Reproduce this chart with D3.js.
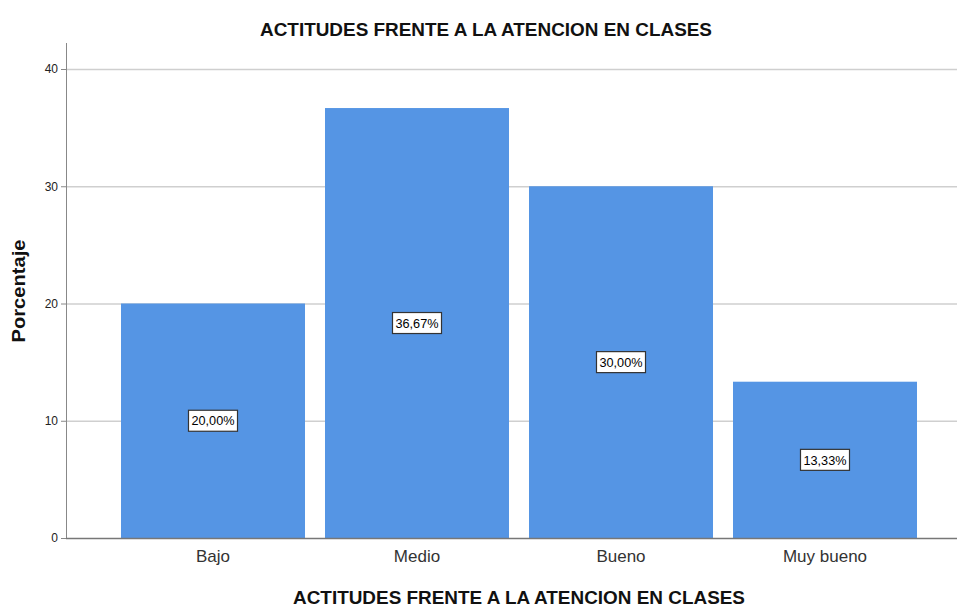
<!DOCTYPE html>
<html>
<head>
<meta charset="utf-8">
<script src="https://cdn.jsdelivr.net/npm/d3@7"></script>
<style>
  body { margin: 0; background: #fff; }
  text { font-family: "Liberation Sans", Arial, sans-serif; }
</style>
</head>
<body>
<div id="chart"></div>
<script>
// datos del grafico
var categorias = ["Bajo", "Medio", "Bueno", "Muy bueno"];
var porcentajes = [20.00, 36.67, 30.00, 13.33];
var yTicks = [0, 10, 20, 30, 40];
var titulo = "ACTITUDES FRENTE A LA ATENCION EN CLASES";

var W = 957, H = 608;

var svg = d3.select("#chart").append("svg")
    .attr("width", W)
    .attr("height", H);

var y = d3.scaleLinear()
    .domain([0, 40])
    .range([538, 69]);

var x = d3.scaleBand()
    .domain(categorias)
    .range([111, 927])
    .paddingInner(0.098)
    .paddingOuter(0.049);

// lineas de grilla
svg.append("g")
    .selectAll("line")
    .data(yTicks.filter(function(d) { return d > 0; }))
    .enter().append("line")
    .attr("x1", 66)
    .attr("x2", W)
    .attr("y1", function(d) { return y(d) + 0.5; })
    .attr("y2", function(d) { return y(d) + 0.5; })
    .attr("stroke", "#cfcfcf")
    .attr("stroke-width", 1.5);

// barras
svg.append("g")
    .selectAll("rect")
    .data(porcentajes)
    .enter().append("rect")
    .attr("x", function(d, i) { return x(categorias[i]); })
    .attr("y", function(d) { return y(d); })
    .attr("width", x.bandwidth())
    .attr("height", function(d) { return y(0) - y(d); })
    .attr("fill", "#5595e4");

// eje y
var yAxis = d3.axisLeft(y)
    .tickValues(yTicks)
    .tickSize(5)
    .tickFormat(d3.format("d"));

var gy = svg.append("g")
    .attr("transform", "translate(66,0)")
    .call(yAxis);
gy.select(".domain").remove();
gy.selectAll(".tick line").attr("stroke", "#888");
gy.selectAll(".tick text")
    .attr("x", -8)
    .style("font-size", "12px")
    .attr("fill", "#222");

svg.append("line")
    .attr("x1", 66.5).attr("x2", 66.5)
    .attr("y1", 43).attr("y2", 538)
    .attr("stroke", "#888");

// eje x
var gx = svg.append("g")
    .attr("transform", "translate(0,538)")
    .call(d3.axisBottom(x).tickSize(0));
gx.select(".domain").remove();
gx.selectAll(".tick text")
    .attr("y", 12)
    .style("font-size", "17px")
    .attr("fill", "#333");

svg.append("line")
    .attr("x1", 66).attr("x2", W)
    .attr("y1", 538.5).attr("y2", 538.5)
    .attr("stroke", "#777")
    .attr("stroke-width", 1.5);

// etiquetas de porcentaje
var etiquetas = svg.append("g")
    .selectAll("g")
    .data(porcentajes)
    .enter().append("g")
    .attr("transform", function(d, i) {
        return "translate(" + (x(categorias[i]) + x.bandwidth() / 2) + "," + ((y(d) + y(0)) / 2) + ")";
    });

etiquetas.append("rect")
    .attr("x", -24.5)
    .attr("y", -10.5)
    .attr("width", 49)
    .attr("height", 21)
    .attr("fill", "#fff")
    .attr("stroke", "#333")
    .attr("stroke-width", 1.2);

etiquetas.append("text")
    .attr("text-anchor", "middle")
    .attr("dy", "0.36em")
    .style("font-size", "13px")
    .attr("textLength", 43)
    .attr("lengthAdjust", "spacingAndGlyphs")
    .attr("fill", "#000")
    .text(function(d) { return d.toFixed(2).replace(".", ",") + "%"; });

// titulos
svg.append("text")
    .attr("x", 486)
    .attr("y", 36)
    .attr("text-anchor", "middle")
    .style("font-size", "18px")
    .style("font-weight", "bold")
    .attr("textLength", 452)
    .attr("lengthAdjust", "spacingAndGlyphs")
    .attr("fill", "#111")
    .text(titulo);

svg.append("text")
    .attr("x", 519)
    .attr("y", 604)
    .attr("text-anchor", "middle")
    .style("font-size", "18px")
    .style("font-weight", "bold")
    .attr("textLength", 452)
    .attr("lengthAdjust", "spacingAndGlyphs")
    .attr("fill", "#111")
    .text(titulo);

svg.append("text")
    .attr("transform", "translate(25,291) rotate(-90)")
    .attr("text-anchor", "middle")
    .style("font-size", "18px")
    .style("font-weight", "bold")
    .attr("textLength", 103)
    .attr("lengthAdjust", "spacingAndGlyphs")
    .attr("fill", "#111")
    .text("Porcentaje");
</script>
</body>
</html>
